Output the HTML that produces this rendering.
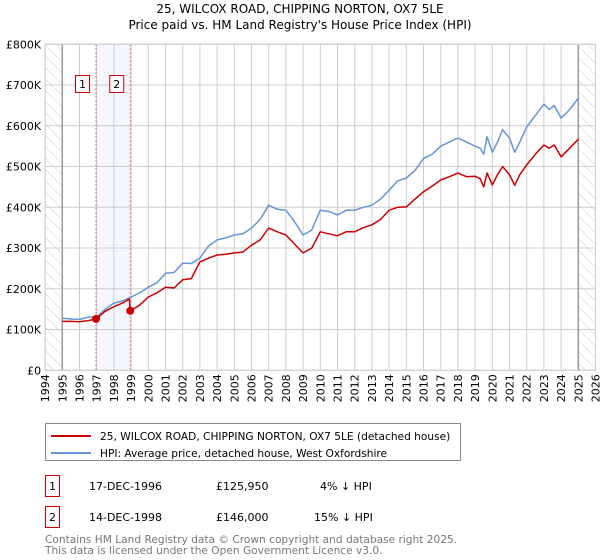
<!DOCTYPE html>
<html><head><meta charset="utf-8"><style>
body{margin:0;background:#fff;font-family:"DejaVu Sans","Liberation Sans",sans-serif;}
#wrap{position:relative;width:600px;height:560px;overflow:hidden;}
svg text{font-family:"DejaVu Sans","Liberation Sans",sans-serif;}
</style></head><body>
<div id="wrap">
<svg id="chart" width="600" height="560">
<defs><pattern id="hatch" width="8" height="8" patternUnits="userSpaceOnUse" patternTransform="rotate(-45)"><line x1="0" y1="0" x2="0" y2="8" stroke="#ccc" stroke-width="1"/></pattern></defs>
<text x="300" y="13" text-anchor="middle" font-size="12">25, WILCOX ROAD, CHIPPING NORTON, OX7 5LE</text>
<text x="300" y="29" text-anchor="middle" font-size="12">Price paid vs. HM Land Registry's House Price Index (HPI)</text>
<g id="plot"></g>
<rect x="45.5" y="423.5" width="415" height="37" fill="#fff" stroke="#888"/>
<line x1="51" y1="436" x2="91" y2="436" stroke="#cc0000" stroke-width="2"/>
<text x="100" y="440" font-size="10.6">25, WILCOX ROAD, CHIPPING NORTON, OX7 5LE (detached house)</text>
<line x1="51" y1="453" x2="91" y2="453" stroke="#6495d6" stroke-width="2"/>
<text x="100" y="457" font-size="10.6">HPI: Average price, detached house, West Oxfordshire</text>
<g>
<rect x="45.5" y="475.5" width="14" height="21" fill="#fff" stroke="#cc0000"/>
<text x="52.5" y="490" text-anchor="middle" font-size="11">1</text>
<text x="89" y="490" font-size="11">17-DEC-1996</text>
<text x="216" y="490" font-size="11">£125,950</text>
<text x="320" y="490" font-size="11">4% ↓ HPI</text></g>
<g>
<rect x="45.5" y="506.5" width="14" height="21" fill="#fff" stroke="#cc0000"/>
<text x="52.5" y="521" text-anchor="middle" font-size="11">2</text>
<text x="89" y="521" font-size="11">14-DEC-1998</text>
<text x="216" y="521" font-size="11">£146,000</text>
<text x="314" y="521" font-size="11">15% ↓ HPI</text></g>
<text x="45" y="543" font-size="10.6" fill="#777">Contains HM Land Registry data © Crown copyright and database right 2025.</text>
<text x="45" y="554" font-size="10.6" fill="#777">This data is licensed under the Open Government Licence v3.0.</text>
</svg></div>
<script>
const hpiYears=[1995,1995.5,1996,1996.5,1997,1997.5,1998,1998.5,1999,1999.5,2000,2000.5,2001,2001.5,2002,2002.5,2003,2003.5,2004,2004.5,2005,2005.5,2006,2006.5,2007,2007.5,2008,2008.5,2009,2009.5,2010,2010.5,2011,2011.5,2012,2012.5,2013,2013.5,2014,2014.5,2015,2015.5,2016,2016.5,2017,2017.5,2018,2018.5,2019,2019.3,2019.5,2019.7,2020,2020.3,2020.6,2021,2021.3,2021.6,2022,2022.5,2023,2023.3,2023.6,2024,2024.5,2025];
const hpiValues=[128,126,125,130,131,150,165,170,180,190,204,215,238,240,263,262,275,305,320,325,332,335,349,370,405,395,393,365,332,344,393,390,381,393,393,400,405,420,442,465,472,490,520,530,550,560,570,560,550,545,530,573,535,560,590,570,535,560,597,625,653,640,650,619,640,668];
const redYears=[1995,1995.5,1996,1996.5,1996.96,1997.5,1998,1998.5,1998.9,1998.95,1999.5,2000,2000.5,2001,2001.5,2002,2002.5,2003,2003.5,2004,2004.5,2005,2005.5,2006,2006.5,2007,2007.5,2008,2008.5,2009,2009.5,2010,2010.5,2011,2011.5,2012,2012.5,2013,2013.5,2014,2014.5,2015,2015.5,2016,2016.5,2017,2017.5,2018,2018.5,2019,2019.3,2019.5,2019.7,2020,2020.3,2020.6,2021,2021.3,2021.6,2022,2022.5,2023,2023.3,2023.6,2024,2024.5,2025];
const redValues=[120,120,119,122,126,145,156,165,175,146,160,180,190,204,202,222,225,266,275,283,285,288,290,307,320,349,340,332,310,288,300,340,335,330,340,340,350,357,370,393,400,401,420,438,452,467,475,484,475,476,470,450,484,455,480,500,480,454,480,504,530,553,545,553,524,545,567];
const sales=[{x:1996.96,v:125950,l:"1"},{x:1998.95,v:146000,l:"2"}];
const yTicks=[0,100,200,300,400,500,600,700,800];
const yLabels=["£0","£100K","£200K","£300K","£400K","£500K","£600K","£700K","£800K"];
const xTicks=[1994,1995,1996,1997,1998,1999,2000,2001,2002,2003,2004,2005,2006,2007,2008,2009,2010,2011,2012,2013,2014,2015,2016,2017,2018,2019,2020,2021,2022,2023,2024,2025,2026];
const NS="http://www.w3.org/2000/svg";
const L=45.1,R=595.5,T=44.3,B=370.3;
const X=y=>L+(y-1994)*(R-L)/32;
const Y=v=>B-v*(B-T)/800;
const g=document.getElementById('plot');
function mk(t,a){const e=document.createElementNS(NS,t);for(const k in a)e.setAttribute(k,a[k]);g.appendChild(e);return e;}
let e;
e=mk('rect',{x:L,y:T,width:R-L,height:B-T,fill:'#fff'});


e=mk('rect',{x:L,y:T,width:X(1995)-L,height:B-T,fill:'url(#hatch)'});


e=mk('rect',{x:X(2025),y:T,width:R-X(2025),height:B-T,fill:'url(#hatch)'});


e=mk('rect',{x:X(sales[0].x),y:T,width:X(sales[1].x)-X(sales[0].x),height:B-T,fill:'#eef3fc',opacity:0.7});


yTicks.forEach((v,i)=>{
 e=mk('line',{x1:L,x2:R,y1:Y(v),y2:Y(v),stroke:'#ccc'});
 
 
 e=mk('text',{x:L-4,y:Y(v)+4,'text-anchor':'end','font-size':11});
 e.textContent=yLabels[i];
 
 
});
xTicks.forEach(yr=>{
 e=mk('line',{x1:X(yr),x2:X(yr),y1:T,y2:B,stroke:'#ccc'});
 
 
 e=mk('text',{x:X(yr)+4,y:B+4,'text-anchor':'end','font-size':11,transform:`rotate(-90 ${X(yr)+4} ${B+4})`});
 e.textContent=yr;
 
 
});
[1995,2025].forEach(yr=>{
 e=mk('line',{x1:X(yr),x2:X(yr),y1:T,y2:B,stroke:'#999','stroke-width':1.5});
 
 
});
sales.forEach(s=>{
 e=mk('line',{x1:X(s.x),x2:X(s.x),y1:T,y2:B,stroke:'#e07070','stroke-dasharray':'2,2'});
 
 
});
function path(xs,vs,c,n){
 let d=xs.map((x,i)=>(i?'L':'M')+X(x).toFixed(1)+','+Y(vs[i]).toFixed(1)).join('');
 e=mk('path',{d:d,fill:'none',stroke:c,'stroke-width':1.5,'stroke-linejoin':'round'});
 
 
}
path(hpiYears,hpiValues,'#6495d6','hpi-line');
path(redYears,redValues,'#cc0000','property-price-line');
sales.forEach(s=>{
 e=mk('circle',{cx:X(s.x),cy:Y(s.v/1000),r:4,fill:'#cc0000'});
 
 
 const bx=X(s.x)-20;
 e=mk('rect',{x:bx-0.5,y:75.5,width:14,height:17,fill:'#fff',stroke:'#cc0000'});
 
 
 e=mk('text',{x:bx+6.5,y:88,'text-anchor':'middle','font-size':11});
 e.textContent=s.l;
 
 
});
e=mk('rect',{x:L,y:T,width:R-L,height:B-T,fill:'none',stroke:'#ccc'});


</script>
</body></html>
